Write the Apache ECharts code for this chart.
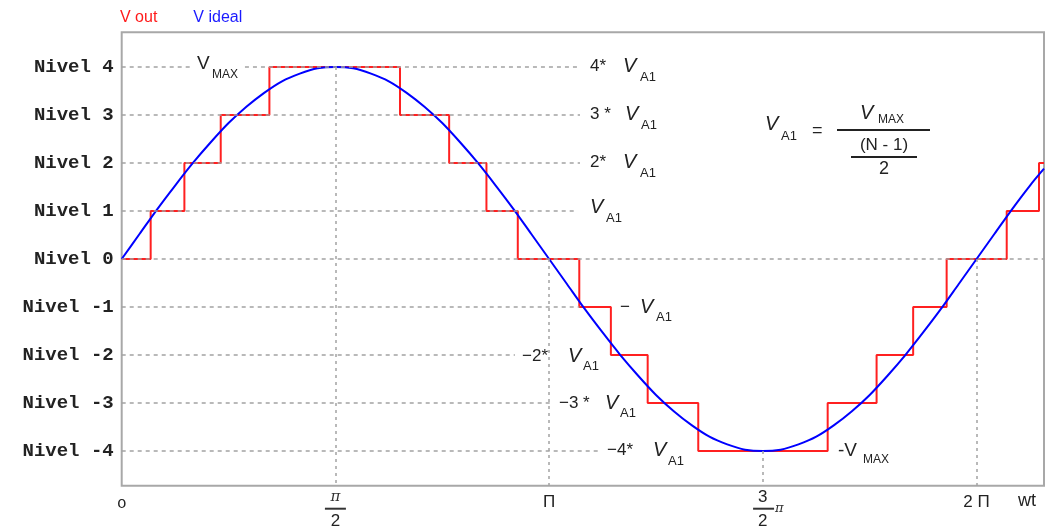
<!DOCTYPE html>
<html>
<head>
<meta charset="utf-8">
<script src="https://cdn.jsdelivr.net/npm/echarts@6/dist/echarts.min.js"></script>
<style>html,body{margin:0;padding:0;background:#fff;}#c{width:1049px;height:531px;}</style>
</head>
<body>
<div id="c"></div>
<script>
// ---- data (x in degrees of wt, y in levels) ----
const seriesNames = ['V out', 'V ideal'];
const yTickValues = [-4, -3, -2, -1, 0, 1, 2, 3, 4];
const yTickLabels = ['Nivel -4', 'Nivel -3', 'Nivel -2', 'Nivel -1', 'Nivel 0', 'Nivel 1', 'Nivel 2', 'Nivel 3', 'Nivel 4'];
const xTickValues = [0, 90, 180, 270, 360];
const xTickLabels = ['o', 'π/2', 'Π', '3/2π', '2Π'];
// staircase output: x where the level changes, and the new level
const stepX = [0, 12.2, 26.4, 41.7, 62.2, 117.2, 137.9, 153.6, 166.8, 192.7, 206.0, 221.5, 242.8, 297.3, 317.9, 333.3, 347.4, 372.7, 386.3, 388.4];
const stepLevel = [0, 1, 2, 3, 4, 3, 2, 1, 0, -1, -2, -3, -4, -3, -2, -1, 0, 1, 2, 2];
// ideal sine
const idealX = [0, 7.5, 15, 22.5, 30, 37.5, 45, 52.5, 60, 67.5, 75, 82.5, 90,
  97.5, 105, 112.5, 120, 127.5, 135, 142.5, 150, 157.5, 165, 172.5, 180,
  187.5, 195, 202.5, 210, 217.5, 225, 232.5, 240, 247.5, 255, 262.5, 270,
  277.5, 285, 292.5, 300, 307.5, 315, 322.5, 330, 337.5, 345, 352.5, 360,
  367.5, 375, 382.5, 388.4];
const idealV = [0, 0.52, 1.04, 1.53, 2.00, 2.43, 2.83, 3.17, 3.46, 3.70, 3.86, 3.97, 4.00,
  3.97, 3.86, 3.70, 3.46, 3.17, 2.83, 2.43, 2.00, 1.53, 1.04, 0.52, 0,
  -0.52, -1.04, -1.53, -2.00, -2.43, -2.83, -3.17, -3.46, -3.70, -3.86, -3.97, -4.00,
  -3.97, -3.86, -3.70, -3.46, -3.17, -2.83, -2.43, -2.00, -1.53, -1.04, -0.52, 0,
  0.52, 1.04, 1.53, 1.88];

const X_MAX = 388.4, Y_MIN = -4.72, Y_MAX = 4.72;

const chart = echarts.init(document.getElementById('c'), null, {renderer: 'canvas'});

const guideStyle = {type: [4, 4], color: '#a3a3a3', width: 1.5};
const vGuideStyle = {type: [3, 4], color: '#a3a3a3', width: 1.5};
function seg(x1, y1, x2, y2, ls) {
  return [{coord: [x1, y1], lineStyle: ls}, {coord: [x2, y2]}];
}
const guides = [
  seg(0, 4, 29.6, 4, guideStyle), seg(51.9, 4, 193, 4, guideStyle),
  seg(0, 3, 193, 3, guideStyle), seg(0, 2, 193, 2, guideStyle), seg(0, 1, 191, 1, guideStyle),
  seg(0, 0, X_MAX, 0, guideStyle),
  seg(0, -1, 192.7, -1, guideStyle), seg(0, -2, 165.6, -2, guideStyle),
  seg(0, -3, 181.2, -3, guideStyle), seg(0, -4, 201.4, -4, guideStyle),
  seg(90, 4, 90, Y_MIN, vGuideStyle), seg(180, 0, 180, Y_MIN, vGuideStyle),
  seg(270, -4, 270, Y_MIN, vGuideStyle), seg(360, 0, 360, Y_MIN, vGuideStyle)
];

const xRich = {
  'o': '{z|o}',
  'π/2': '{pi|π}\n{bar| }\n{den|2}',
  'Π': '{big|Π}',
  '3/2π': '{num|3}\n{sp| }{bar| }{sm|π}\n{den|2}',
  '2Π': '{big|2 Π}'
};

const TXT = '#222';
const SANS = "'Liberation Sans', Arial, sans-serif";
function t(x, y, text, size, extra) {
  return {
    type: 'text', x: x, y: y, z: 100, silent: true,
    style: Object.assign({text: text, fontSize: size, fontFamily: SANS, fill: TXT, verticalAlign: 'middle', align: 'left'}, extra || {})
  };
}
function it(x, y, size) { return t(x, y, 'V', size, {fontStyle: 'italic'}); }
function hl(x1, x2, y) {
  return {type: 'line', z: 100, silent: true, shape: {x1: x1, y1: y, x2: x2, y2: y}, style: {stroke: TXT, lineWidth: 2}};
}

const graphics = [
  // V MAX
  t(197, 64, 'V', 19), t(212, 75, 'MAX', 12),
  // right-side level labels
  t(590, 66, '4* ', 17), it(623, 66, 20), t(640, 77, 'A1', 13),
  t(590, 114, '3 * ', 17), it(625, 114, 20), t(641, 125, 'A1', 13),
  t(590, 162, '2* ', 17), it(623, 162, 20), t(640, 173, 'A1', 13),
  it(590, 207, 20), t(606, 218, 'A1', 13),
  t(620, 307, '−', 17), it(640, 307, 20), t(656, 317, 'A1', 13),
  t(522, 356, '−2* ', 17), it(568, 356, 20), t(583, 366, 'A1', 13),
  t(559, 403, '−3 * ', 17), it(605, 403, 20), t(620, 413, 'A1', 13),
  t(607, 450, '−4* ', 17), it(653, 450, 20), t(668, 461, 'A1', 13),
  t(838, 451, '-V', 19), t(863, 460, 'MAX', 12),
  // formula
  it(765, 124, 20), t(781, 136, 'A1', 13), t(812, 131, '=', 18),
  it(860, 113, 20), t(878, 120, 'MAX', 12),
  hl(837, 930, 130),
  t(884, 145, '(N - 1)', 17, {align: 'center'}),
  hl(851, 917, 157),
  t(884, 169, '2', 18, {align: 'center'}),
  // axis name
  t(1018, 501, 'wt', 18)
];

const option = {
  animation: false,
  backgroundColor: '#fff',
  legend: {
    left: 110, top: 5, icon: 'none', itemWidth: 0, itemHeight: 14, itemGap: 31,
    textStyle: {fontSize: 16, fontFamily: SANS},
    data: [
      {name: seriesNames[0], textStyle: {color: '#ff1a1a'}},
      {name: seriesNames[1], textStyle: {color: '#1a1aff'}}
    ],
    selectedMode: false
  },
  grid: {left: 121.7, top: 32.3, right: 5, bottom: 45.3, show: true, borderColor: '#a8a8a8', borderWidth: 2, backgroundColor: 'transparent'},
  xAxis: {
    type: 'value', min: 0, max: X_MAX,
    axisLine: {show: false}, axisTick: {show: false}, splitLine: {show: false},
    axisLabel: {
      customValues: xTickValues, margin: 2, color: TXT, fontFamily: SANS,
      formatter: function (v) { const i = xTickValues.indexOf(v); return i < 0 ? '' : xRich[xTickLabels[i]]; },
      rich: {
        z: {fontSize: 16, lineHeight: 32, fontFamily: "'Liberation Mono', monospace", color: TXT},
        pi: {fontSize: 15, lineHeight: 19, fontFamily: "'DejaVu Serif', serif", fontStyle: 'italic', color: '#333'},
        num: {fontSize: 17, lineHeight: 19, fontFamily: SANS, color: TXT},
        bar: {width: 21, height: 2, lineHeight: 4, fontSize: 1, backgroundColor: '#333'},
        sp: {width: 11, height: 2, lineHeight: 4, fontSize: 1},
        sm: {fontSize: 13, lineHeight: 4, fontFamily: "'DejaVu Serif', serif", fontStyle: 'italic', color: '#333', padding: [0, 0, 0, 1]},
        den: {fontSize: 17, lineHeight: 22, fontFamily: SANS, color: TXT},
        big: {fontSize: 17, lineHeight: 30, fontFamily: SANS, color: TXT}
      }
    }
  },
  yAxis: {
    type: 'value', min: Y_MIN, max: Y_MAX,
    axisLine: {show: false}, axisTick: {show: false}, splitLine: {show: false},
    axisLabel: {
      customValues: yTickValues, margin: 8, color: TXT,
      fontFamily: "'Liberation Mono', 'Courier New', monospace", fontWeight: 'bold', fontSize: 19,
      formatter: function (v) { const i = yTickValues.indexOf(v); return i < 0 ? '' : yTickLabels[i]; }
    }
  },
  series: [
    {
      name: 'guides', type: 'line', data: [], z: 1, silent: true,
      markLine: {silent: true, symbol: ['none', 'none'], label: {show: false}, lineStyle: guideStyle, data: guides, animation: false}
    },
    {
      name: seriesNames[0], type: 'line', step: 'end', symbol: 'none', z: 3,
      lineStyle: {color: '#ff2020', width: 2}, itemStyle: {color: '#ff2020'},
      data: stepX.map((x, i) => [x, stepLevel[i]])
    },
    {
      name: seriesNames[1], type: 'line', smooth: 0.3, symbol: 'none', z: 4,
      lineStyle: {color: '#0000ff', width: 2}, itemStyle: {color: '#0000ff'},
      data: idealX.map((x, i) => [x, idealV[i]])
    }
  ],
  graphic: graphics
};
chart.setOption(option);
</script>
</body>
</html>
